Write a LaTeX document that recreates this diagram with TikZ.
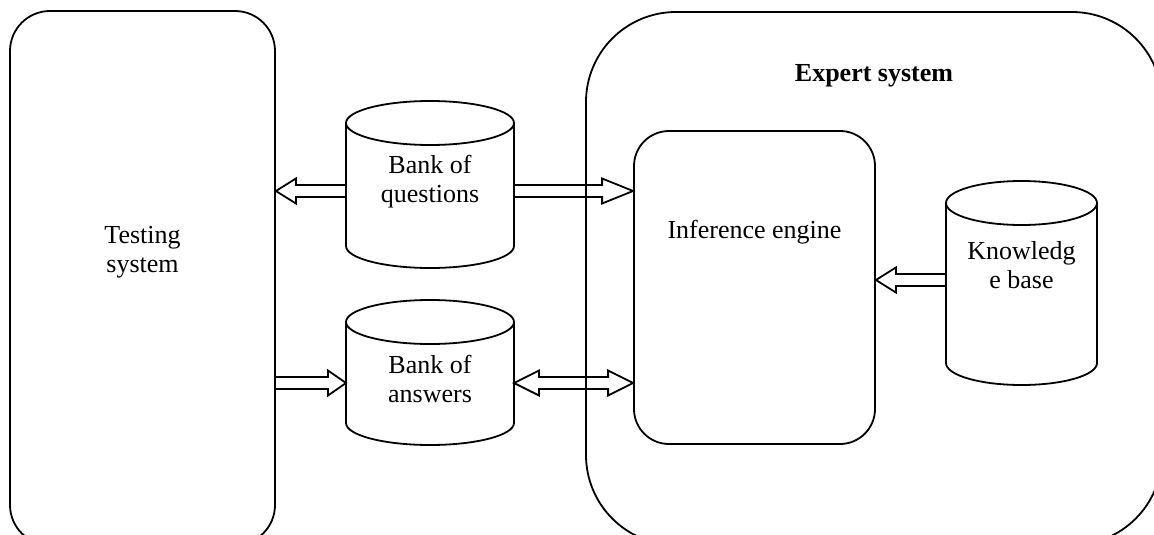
\documentclass[tikz,border=0pt]{standalone}
\usepackage{fontspec}
\setmainfont{Liberation Serif}
\usetikzlibrary{calc}
\newcommand\fs{\fontsize{26}{29}\selectfont}
% cylinder outline around a body node: #1 node name, #2 ellipse y radius (pt)
\newcommand\cylout[2]{%
  \draw[outl] let \p1=(#1.north west), \p2=(#1.north east), \n1={(\x2-\x1)/2} in
    (#1.north) ellipse[x radius=\n1, y radius=#2pt]
    (#1.north west) -- (#1.south west)
    arc[start angle=180, end angle=360, x radius=\n1, y radius=#2pt]
    -- (#1.north east);}
% single block arrow: #1 start, #2 tip, #3 head length, #4 direction (+1 right, -1 left)
\newcommand\blockarr[4]{%
  \draw[arr] let \p1=#1, \p2=#2 in
    (\x1,\y1+6pt) -- (\x2-#4*#3pt,\y1+6pt) -- (\x2-#4*#3pt,\y1+12.5pt) -- (\x2,\y1)
    -- (\x2-#4*#3pt,\y1-12.5pt) -- (\x2-#4*#3pt,\y1-6pt) -- (\x1,\y1-6pt);}
% double block arrow: #1 left tip, #2 right tip, #3 head length
\newcommand\dblarr[3]{%
  \draw[arr] let \p1=#1, \p2=#2 in
    (\x1,\y1) -- (\x1+#3pt,\y1+12.5pt) -- (\x1+#3pt,\y1+6pt) -- (\x2-#3pt,\y1+6pt)
    -- (\x2-#3pt,\y1+12.5pt) -- (\x2,\y1) -- (\x2-#3pt,\y1-12.5pt) -- (\x2-#3pt,\y1-6pt)
    -- (\x1+#3pt,\y1-6pt) -- (\x1+#3pt,\y1-12.5pt) -- cycle;}
\begin{document}
\begin{tikzpicture}[x=1pt,y=-1pt,
  outl/.style={draw=black, line width=1.8pt},
  rbox/.style={outl, rectangle, inner sep=0pt},
  body/.style={rectangle, inner sep=0pt, outer sep=0pt},
  lbl/.style={font=\fs, align=center, inner sep=0pt, anchor=north},
  arr/.style={draw=black, line width=1.8pt, line join=miter}]
\clip (0,0) rectangle (1154,535);
\fill[white] (0,0) rectangle (1154,535);
% containers
\node[rbox, minimum width=265, minimum height=534, rounded corners=40pt] (test) at (142.5,278) {};
\node[rbox, minimum width=576, minimum height=533, rounded corners=90pt] (es) at (874,278.5) {};
\node[rbox, minimum width=241, minimum height=313, rounded corners=35pt] (ie) at (754.5,287.5) {};
% cylinders
\node[body, minimum width=168, minimum height=123] (bq) at (430,184.5) {};
\node[body, minimum width=168, minimum height=101] (ba) at (430,372.5) {};
\node[body, minimum width=151, minimum height=160] (kb) at (1021.5,283) {};
\cylout{bq}{22}
\cylout{ba}{22}
\cylout{kb}{22}
% arrow levels
\coordinate (a1) at (0,191);
\coordinate (a2) at (0,383);
\coordinate (a3) at (0,280);
\blockarr{(bq.west |- a1)}{(test.east |- a1)}{20}{-1}
\blockarr{(bq.east |- a1)}{(ie.west |- a1)}{31}{1}
\blockarr{(test.east |- a2)}{(ba.west |- a2)}{18}{1}
\dblarr{(ba.east |- a2)}{(ie.west |- a2)}{25}
\blockarr{(kb.west |- a3)}{(ie.east |- a3)}{20}{-1}
% texts
\node[lbl] (tTest) at (142.5,222.7) {\strut Testing\\\strut system};
\node[lbl] (tBq) at (430,152.7) {\strut Bank of\\\strut questions};
\node[lbl] (tBa) at (430,352.7) {\strut Bank of\\\strut answers};
\node[lbl] (tIe) at (754.5,217.7) {\strut Inference engine};
\node[lbl] (tKb) at (1021.5,238.7) {\strut Knowledg\\\strut e base};
\node[lbl] (tEs) at (874,60.7) {\strut\textbf{Expert system}};
\end{tikzpicture}
\end{document}
